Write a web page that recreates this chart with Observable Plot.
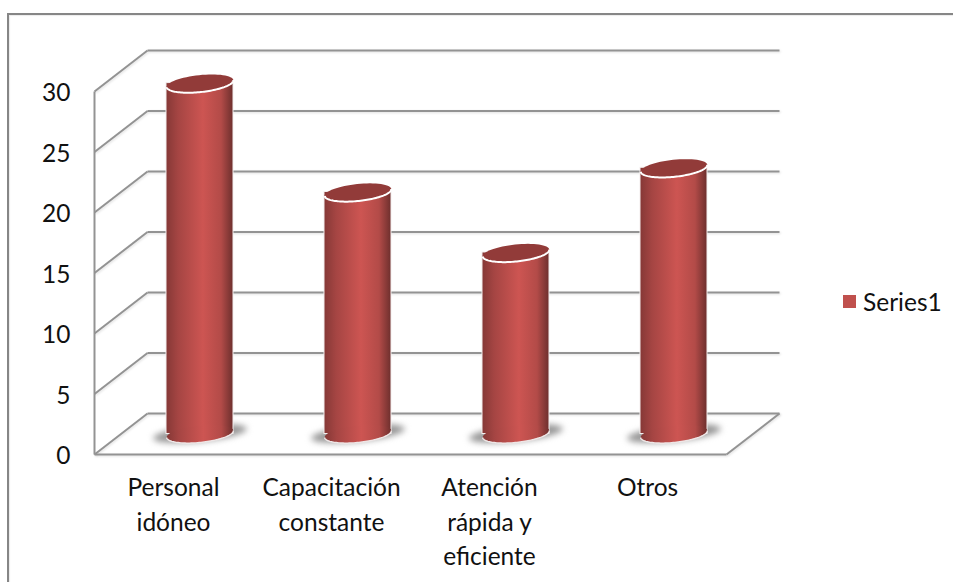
<!DOCTYPE html>
<html lang="es">
<head>
<meta charset="utf-8">
<script src="https://cdn.jsdelivr.net/npm/d3@7"></script>
<script src="https://cdn.jsdelivr.net/npm/@observablehq/plot@0.6"></script>
<style>
  html, body { margin: 0; padding: 0; background: #fff; overflow: hidden; }
  #page { position: relative; width: 953px; height: 582px; overflow: hidden; }
  #border { position: absolute; left: 7px; top: 13px; right: -4px; bottom: -4px;
            border: 2px solid #868686; box-shadow: inset 1px 1px 1px rgba(0,0,0,.08); }
  #chart { position: absolute; left: 0; top: 0; }
  #legend { position: absolute; left: 843px; top: 287px; display: flex; align-items: center;
            font: 24.5px Lato, sans-serif; color: #111; }
  #legend i { display: block; width: 13px; height: 13px; background: #c0504d; margin-right: 7px; }
</style>
</head>
<body>
<div id="page">
  <div id="border"></div>
  <div id="chart"></div>
  <div id="legend"><i></i><span id="legendLabel"></span></div>
</div>
<script>
const categories = ["Personal idóneo", "Capacitación constante", "Atención rápida y eficiente", "Otros"];
const values = [29, 20, 15, 22];
const yTicks = [0, 5, 10, 15, 20, 25, 30];
const seriesName = "Series1";

// Oblique depth of the 3D box, in scale units, and cylinder half width
const depthX = 53 / 158;
const depthY = 41 / 12.1;
const halfWidth = 33.5 / 158;
const midDx = 26.5, midDy = -20.5;
const lineColor = "#939393";
const lineShadow = "drop-shadow(1px 1px 1px rgba(0,0,0,.12))";
const labelSize = 24.5;

function tiltedPoints(rx, ry, deg, from, to, n) {
  const a = deg * Math.PI / 180, pts = [];
  for (let i = 0; i <= n; i++) {
    const t = from + (to - from) * i / n;
    const px = rx * Math.cos(t), py = ry * Math.sin(t);
    pts.push([px * Math.cos(a) - py * Math.sin(a), px * Math.sin(a) + py * Math.cos(a)]);
  }
  return pts;
}
function shape(rx, ry, deg, from, to, closed) {
  return {
    draw(ctx) {
      tiltedPoints(rx, ry, deg, from, to, 64).forEach(([x, y], i) => i ? ctx.lineTo(x, y) : ctx.moveTo(x, y));
      if (closed) ctx.closePath();
    }
  };
}
const fullEllipse = shape(33.5, 8.5, -6, 0, 2 * Math.PI, true);
const topFront = shape(33.5, 8.5, -6, 0, Math.PI, false);
const shadowEllipse = shape(47, 8, -6, 0, 2 * Math.PI, true);

const cx = (d, i) => i + 0.5;
const chart = Plot.plot({
  width: 953,
  height: 582,
  marginLeft: 94,
  marginRight: 227,
  marginTop: 91,
  marginBottom: 128,
  style: { background: "transparent", fontFamily: "Lato, sans-serif", color: "#111" },
  x: { domain: [0, categories.length], axis: null },
  y: { domain: [0, 30], axis: null },
  marks: [
    // back wall grid
    Plot.link(yTicks, { x1: () => depthX, x2: () => categories.length + depthX, y1: d => d + depthY, y2: d => d + depthY, stroke: lineColor, strokeWidth: 2, imageFilter: lineShadow }),
    // left wall diagonals
    Plot.link(yTicks, { x1: () => 0, x2: () => depthX, y1: d => d, y2: d => d + depthY, stroke: lineColor, strokeWidth: 2, imageFilter: lineShadow }),
    // left axis, front floor edge and right floor edge
    Plot.link([0], { x1: () => 0, x2: () => 0, y1: () => 0, y2: () => 30, stroke: lineColor, strokeWidth: 2 }),
    Plot.link([0], { x1: () => 0, x2: () => categories.length, y1: () => 0, y2: () => 0, stroke: lineColor, strokeWidth: 2, imageFilter: lineShadow }),
    Plot.link([0], { x1: () => categories.length, x2: () => categories.length + depthX, y1: () => 0, y2: () => depthY, stroke: lineColor, strokeWidth: 2, imageFilter: lineShadow }),
    // floor shadows
    Plot.dot(values, { x: cx, y: () => 0, dx: midDx, dy: midDy - 0.5, symbol: shadowEllipse, r: 10, fill: "#969696", stroke: "none", imageFilter: "blur(3px)" }),
    // cylinder bodies
    Plot.rect(values, { x1: (d, i) => i + 0.5 - halfWidth, x2: (d, i) => i + 0.5 + halfWidth, y1: () => 0, y2: d => d, dx: midDx, dy: midDy, fill: "url(#cyl)", stroke: "#f4eeee", strokeWidth: 1 }),
    Plot.dot(values, { x: cx, y: () => 0, dx: midDx, dy: midDy, symbol: fullEllipse, r: 10, fill: "url(#cyl)", stroke: "none" }),
    Plot.dot(values, { x: cx, y: () => 0, dx: midDx, dy: midDy, symbol: topFront, r: 10, fill: "none", stroke: "#eee6e6", strokeWidth: 1.5 }),
    // cylinder tops
    Plot.dot(values, { x: cx, y: d => d, dx: midDx, dy: midDy + 0.5, symbol: fullEllipse, r: 10, fill: "#923b39", stroke: "none" }),
    Plot.dot(values, { x: cx, y: d => d, dx: midDx, dy: midDy + 0.5, symbol: topFront, r: 10, fill: "none", stroke: "#ffffff", strokeWidth: 2 }),
    // labels
    Plot.text(yTicks, { x: () => 0, y: d => d, text: d => String(d), dx: -24, dy: 2, textAnchor: "end", fontSize: labelSize, fill: "#111" }),
    Plot.text(categories, { x: cx, y: () => 0, text: d => d, dy: 17, lineAnchor: "top", lineWidth: 6.2, lineHeight: 1.41, fontSize: labelSize, fill: "#111" })
  ]
});
chart.insertAdjacentHTML("afterbegin", `<defs><linearGradient id="cyl" x1="0" x2="1" y1="0" y2="0">
  <stop offset="0" stop-color="#853836"/><stop offset="0.18" stop-color="#a54543"/>
  <stop offset="0.55" stop-color="#cd5552"/><stop offset="0.82" stop-color="#b34b48"/>
  <stop offset="1" stop-color="#6d2f2d"/></linearGradient></defs>`);
document.getElementById("chart").append(chart);
document.getElementById("legendLabel").textContent = seriesName;
</script>
</body>
</html>
